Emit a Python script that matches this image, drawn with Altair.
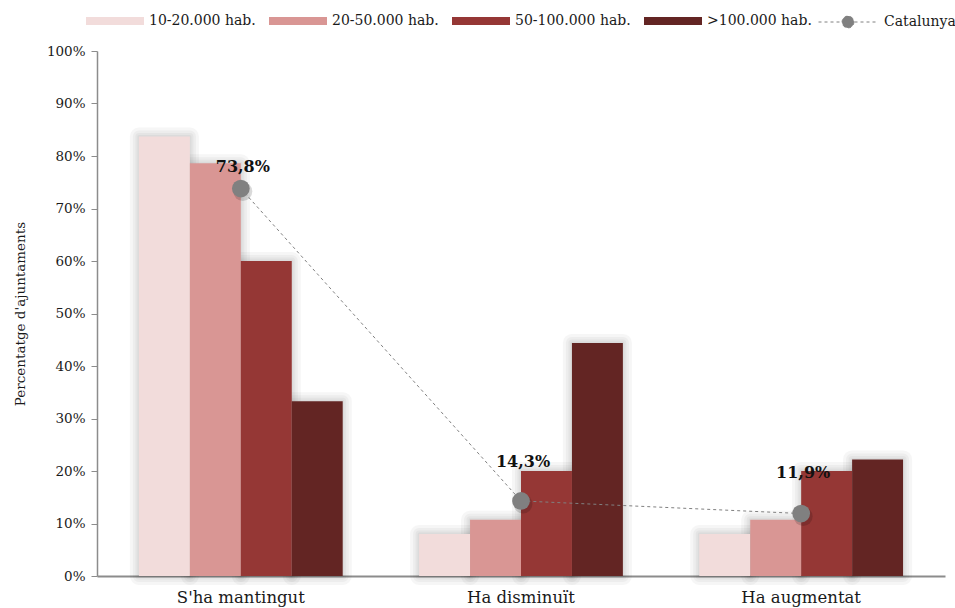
import altair as alt
import pandas as pd

# Categories and series
categories = ["S'ha mantingut", "Ha disminuït", "Ha augmentat"]
groups = ["10-20.000 hab.", "20-50.000 hab.", "50-100.000 hab.", ">100.000 hab."]
values_10_20 = [83.7, 8.0, 8.0]
values_20_50 = [78.6, 10.7, 10.7]
values_50_100 = [60.0, 20.0, 20.0]
values_over_100 = [33.3, 44.4, 22.2]
catalunya = [73.8, 14.3, 11.9]
y_ticks = [0, 10, 20, 30, 40, 50, 60, 70, 80, 90, 100]

palette = ["#f2dcdb", "#d99694", "#953735", "#632523"]
FONT = "DejaVu Serif"

series = [values_10_20, values_20_50, values_50_100, values_over_100]
bars_df = pd.DataFrame(
    [
        {"cat": c, "grp": g, "pct": vals[i]}
        for g, vals in zip(groups, series)
        for i, c in enumerate(categories)
    ]
)
cat_df = pd.DataFrame({"cat": categories, "pct": catalunya, "name": "Catalunya"})

# label lift above each Catalunya marker (in percentage points)
label_lift = {"S'ha mantingut": 4.2, "Ha disminuït": 7.4, "Ha augmentat": 7.8}
lift_expr = " : ".join(
    [f"datum.cat == '{k.replace(chr(39), chr(92) + chr(39))}' ? {v}" for k, v in label_lift.items()]
) + " : 6"

x_enc = alt.X(
    "cat:N",
    sort=categories,
    scale=alt.Scale(paddingInner=0.2727, paddingOuter=0.1497),
    axis=alt.Axis(
        title=None,
        labelAngle=0,
        ticks=False,
        domainColor="#8c8c8c",
        domainWidth=2,
        labelFontSize=16.5,
        labelColor="#1a1a1a",
        labelPadding=13,
    ),
)
y_enc = alt.Y(
    "pct:Q",
    scale=alt.Scale(domain=[0, 100], nice=False),
    axis=alt.Axis(
        title="Percentatge d'ajuntaments",
        values=y_ticks,
        labelExpr="datum.value + '%'",
        grid=False,
        domainColor="#8c8c8c",
        domainWidth=1.5,
        tickColor="#8c8c8c",
        tickSize=6,
        labelFontSize=13.5,
        labelColor="#1a1a1a",
        labelPadding=6,
        titleFontSize=13.5,
        titleFontWeight="normal",
        titleColor="#1a1a1a",
        titlePadding=19,
    ),
)
xoff_enc = alt.XOffset("grp:N", sort=groups, scale=alt.Scale(paddingInner=0, paddingOuter=0))

base = alt.Chart(bars_df)

# soft glow around the bars
glows = [
    base.mark_bar(color="#000", opacity=0.03, stroke="#000", strokeWidth=w, strokeJoin="round")
    .encode(x=x_enc, y=y_enc, xOffset=xoff_enc)
    for w in (18, 12, 7, 3)
]

bars = base.mark_bar().encode(
    x=x_enc,
    y=y_enc,
    xOffset=xoff_enc,
    color=alt.Color(
        "grp:N",
        sort=groups,
        scale=alt.Scale(domain=groups, range=palette),
        legend=alt.Legend(
            title=None,
            orient="none",
            direction="horizontal",
            columns=4,
            legendX=-11,
            legendY=-59,
            symbolType="M-1,-0.138L1,-0.138L1,0.138L-1,0.138Z",
            symbolSize=3364,
            symbolStrokeWidth=0,
            labelFontSize=14,
            labelColor="#1a1a1a",
            labelOffset=5,
            columnPadding=13,
        ),
    ),
)

cat_base = alt.Chart(cat_df)

line = cat_base.mark_line(color="#808080", strokeWidth=1).encode(
    x=x_enc,
    y=y_enc,
    strokeDash=alt.StrokeDash(
        "name:N",
        scale=alt.Scale(range=[[3, 3]]),
        legend=alt.Legend(
            title=None,
            orient="none",
            legendX=721,
            legendY=-59,
            symbolType="M-1,0L1,0M0.2,0A0.2,0.2 0 1,1 -0.2,0A0.2,0.2 0 1,1 0.2,0Z",
            symbolSize=3481,
            symbolFillColor="#808080",
            symbolStrokeColor="#808080",
            symbolStrokeWidth=1,
            labelFontSize=14,
            labelColor="#1a1a1a",
            labelOffset=6,
        ),
    ),
)

dot_shadow = cat_base.mark_circle(size=360, color="#000", opacity=0.15, xOffset=2, yOffset=3).encode(
    x=x_enc, y=y_enc
)
dots = cat_base.mark_circle(size=314, color="#808080", opacity=1).encode(x=x_enc, y=y_enc)

labels = (
    cat_base.transform_calculate(
        label="replace(format(datum.pct, '.1f'), '.', ',') + '%'",
        label_y=f"datum.pct + ({lift_expr})",
    )
    .mark_text(fontSize=16, fontWeight="bold", color="#111", baseline="middle", dx=2)
    .encode(x=x_enc, y=alt.Y("label_y:Q"), text="label:N")
)

chart = (
    alt.layer(*glows, bars, line, dot_shadow, dots, labels)
    .resolve_scale(strokeDash="independent")
    .properties(
        width=848,
        height=525,
        autosize=alt.AutoSizeParams(type="none"),
        padding={"left": 97, "top": 51, "right": 10, "bottom": 32},
        background="white",
    )
    .configure(font=FONT)
    .configure_view(stroke=None)
)

chart.save("out.html", embed_options={"renderer": "svg", "actions": False})
